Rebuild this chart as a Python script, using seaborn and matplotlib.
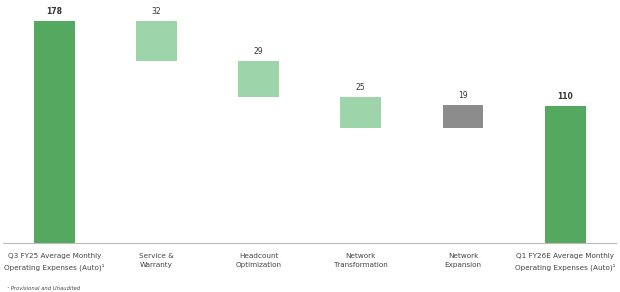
import matplotlib
matplotlib.use("Agg")
import matplotlib.pyplot as plt
import seaborn as sns
import numpy as np
import pandas as pd

categories = [
    "Q3 FY25 Average Monthly\nOperating Expenses (Auto)\u00b9",
    "Service &\nWarranty",
    "Headcount\nOptimization",
    "Network\nTransformation",
    "Network\nExpansion",
    "Q1 FY26E Average Monthly\nOperating Expenses (Auto)\u00b9",
]
changes = [178, -32, -29, -25, 19, 110]
kinds = ["total", "delta", "delta", "delta", "delta", "total"]
labels = ["178", "32", "29", "25", "19", "110"]
colors = ["#55a860", "#9dd4a9", "#9dd4a9", "#9dd4a9", "#8c8c8c", "#55a860"]

# compute waterfall extents
tops, bottoms = [], []
running = 0
for c, k in zip(changes, kinds):
    if k == "total":
        running = c
        bottoms.append(0)
        tops.append(c)
    else:
        new = running + c
        bottoms.append(min(running, new))
        tops.append(max(running, new))
        running = new

df = pd.DataFrame({"cat": categories, "top": tops, "bottom": bottoms})

sns.set_style("white")
fig = plt.figure(figsize=(6.2, 2.92), dpi=100)
ax = fig.add_axes([0.005, 0.168, 0.989, 0.832])

sns.barplot(data=df, x="cat", y="top", hue="cat", palette=colors, legend=False,
            width=0.4, ax=ax, saturation=1, linewidth=0)
sns.barplot(data=df, x="cat", y="bottom", color="white", width=0.4, ax=ax,
            saturation=1, linewidth=0)

for i, (t, lab, k) in enumerate(zip(tops, labels, kinds)):
    ax.text(i, t + 4, lab, ha="center", va="bottom", fontsize=5.5,
            color="#333333", fontweight="bold" if k == "total" else "normal")

ax.set_xlim(-0.5, 5.5)
ax.set_ylim(0, 195)
ax.set_xlabel("")
ax.set_ylabel("")
ax.set_yticks([])
ax.tick_params(axis="x", length=0, pad=7, labelsize=5.2, labelcolor="#444444")
for lbl in ax.get_xticklabels():
    lbl.set_linespacing(1.75)
for s in ["top", "right", "left"]:
    ax.spines[s].set_visible(False)
ax.spines["bottom"].set_color("#bbbbbb")
ax.spines["bottom"].set_linewidth(0.8)

fig.text(0.012, 0.008, "\u00b9 Provisional and Unaudited", fontsize=3.8,
         style="italic", color="#444444")

fig.savefig("out.png", dpi=100)
